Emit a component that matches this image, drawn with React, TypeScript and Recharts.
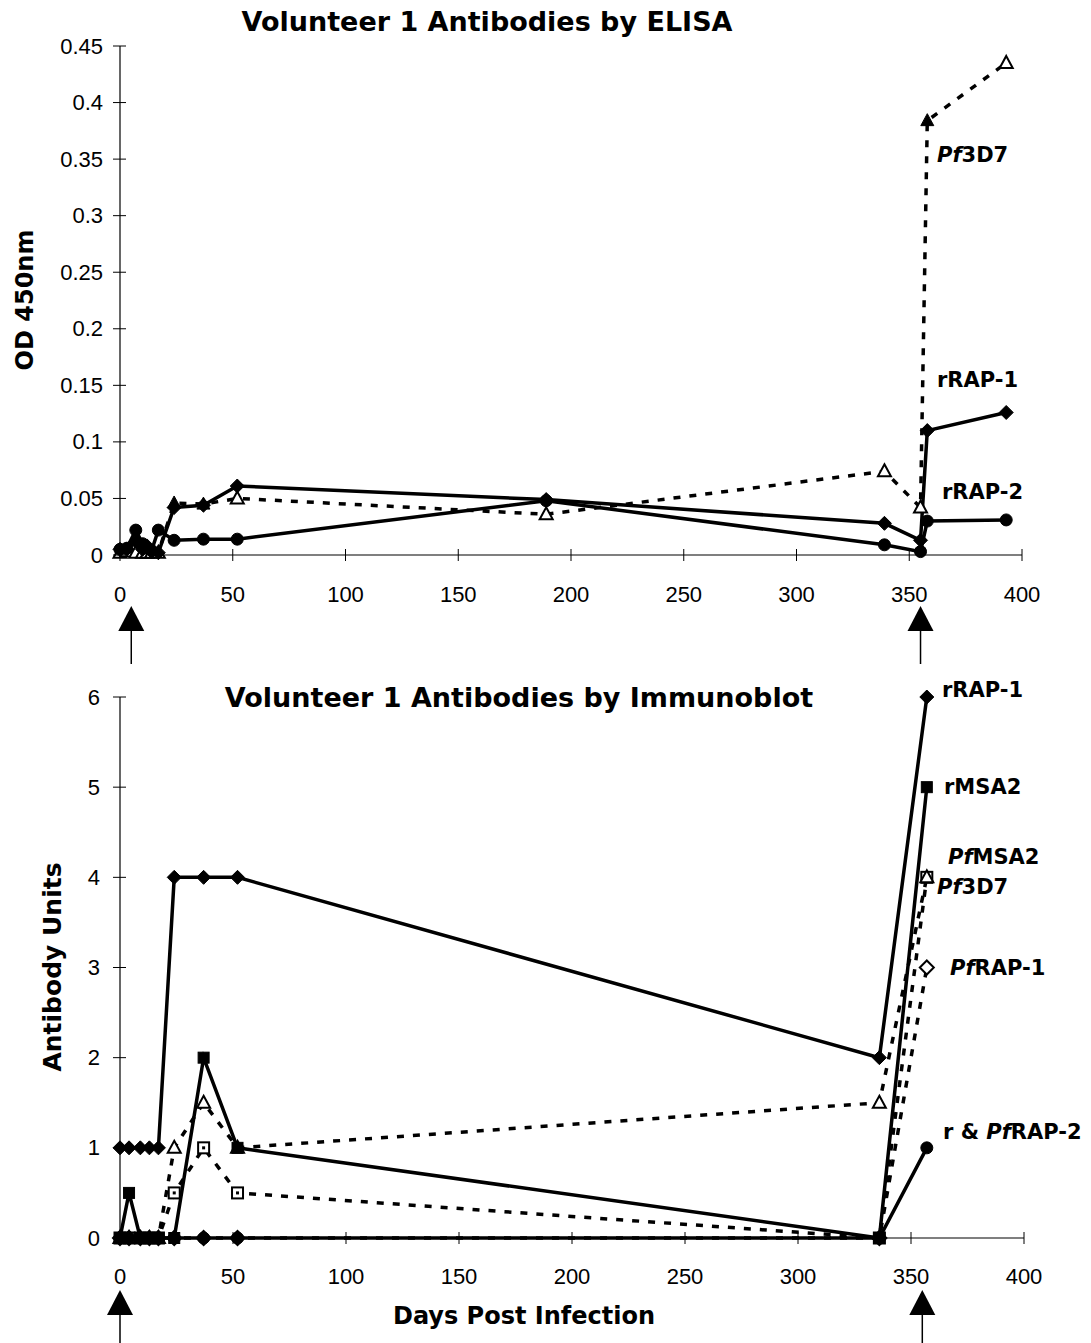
import React from 'react';
import { LineChart, Line, XAxis, YAxis } from 'recharts';

// ELISA panel (days post infection, OD 450nm)
const elisaDays = [0, 3, 7, 10, 12, 14, 17, 24, 37, 52, 189, 339, 355, 358, 393];
const elisaRAP1 = [0.005, 0.005, 0.012, 0.005, 0.008, 0.003, 0.002, 0.042, 0.044, 0.061, 0.049, 0.028, 0.013, 0.110, 0.126];
const elisaPf3D7 = [0.002, 0.003, 0.002, 0.002, 0.002, 0.002, 0.002, 0.046, 0.045, 0.050, 0.036, 0.074, 0.042, 0.384, 0.435];
const elisaRAP2 = [0.005, 0.006, 0.022, 0.010, 0.006, 0.004, 0.022, 0.013, 0.014, 0.014, 0.048, 0.009, 0.003, 0.030, 0.031];
const elisaFilledTriangleDays = [24, 37, 358];

// Immunoblot panel (antibody units)
const blotDays = [0, 4, 9, 13, 17, 24, 37, 52, 336, 357];
const blotRAP1 = [1, 1, 1, 1, 1, 4, 4, 4, 2, 6];
const blotMSA2 = [0, 0.5, 0, 0, 0, 0, 2, 1, 0, 5];
const blotPfMSA2 = [0, 0, 0, 0, 0, 0.5, 1, 0.5, 0, 4];
const blotPf3D7 = [0, 0, 0, 0, 0, 1, 1.5, 1, 1.5, 4];
const blotPfRAP1 = [0, 0, 0, 0, 0, 0, 0, 0, 0, 3];
const blotRAP2 = [0, 0, 0, 0, 0, 0, 0, 0, 0, 1];

const dayTicks = [0, 50, 100, 150, 200, 250, 300, 350, 400];
const odTicks = [0, 0.05, 0.1, 0.15, 0.2, 0.25, 0.3, 0.35, 0.4, 0.45];
const unitTicks = [0, 1, 2, 3, 4, 5, 6];

// infection / challenge arrows (days)
const topArrowDays = [5, 355];
const bottomArrowDays = [0, 355];

const elisaData = elisaDays.map((d, i) => ({
  day: d,
  rap1: elisaRAP1[i],
  pf3d7: elisaPf3D7[i],
  rap2: elisaRAP2[i],
}));

const blotData = blotDays.map((d, i) => ({
  day: d,
  rap1: blotRAP1[i],
  msa2: blotMSA2[i],
  pfmsa2: blotPfMSA2[i],
  pf3d7: blotPf3D7[i],
  pfrap1: blotPfRAP1[i],
  rap2: blotRAP2[i],
}));

const TICK_FONT = '"Liberation Sans", Arial, sans-serif';
const BOLD_FONT = '"DejaVu Sans", sans-serif';
const DASH = '7 9';

// layout of both panels
const W = 1091;
const TOP = { y: 0, h: 640, plotTop: 46, plotBottom: 555, left: 120, right: 1022 };
const BOT = { y: 640, h: 703, plotTop: 697, plotBottom: 1238, left: 120, right: 1024 };

const XTick = ({ x, y, payload, off }: any) => (
  <g>
    <line x1={x} x2={x} y1={y - 6} y2={y + 6} stroke="#000" strokeWidth={1} />
    <text x={x} y={y + off} textAnchor="middle" dominantBaseline="central" fontSize={22} fontFamily={TICK_FONT} fill="#000">
      {payload.value}
    </text>
  </g>
);

const YTick = ({ x, y, payload, off }: any) => (
  <g>
    <line x1={x - 7} x2={x + 6} y1={y} y2={y} stroke="#000" strokeWidth={1} />
    <text x={x - off} y={y} textAnchor="end" dominantBaseline="central" fontSize={22} fontFamily={TICK_FONT} fill="#000">
      {payload.value}
    </text>
  </g>
);

const marker = (shape: string, filled: boolean) => (p: any) => {
  const { cx, cy, index } = p;
  const key = `${shape}-${index}`;
  if (cx == null || cy == null) return <g key={key} />;
  const fill = filled ? '#000' : '#fff';
  const sw = filled ? 1 : 2;
  if (shape === 'diamond') {
    const s = 7;
    return <path key={key} d={`M${cx},${cy - s}L${cx + s},${cy}L${cx},${cy + s}L${cx - s},${cy}Z`} fill={fill} stroke="#000" strokeWidth={sw} />;
  }
  if (shape === 'circle') {
    return <circle key={key} cx={cx} cy={cy} r={6} fill={fill} stroke="#000" strokeWidth={1} />;
  }
  if (shape === 'square') {
    const s = 5.5;
    return (
      <g key={key}>
        <rect x={cx - s} y={cy - s} width={2 * s} height={2 * s} fill={fill} stroke="#000" strokeWidth={sw} />
        {!filled && <rect x={cx - 1.5} y={cy - 1.5} width={3} height={3} fill="#000" />}
      </g>
    );
  }
  // triangle
  return <path key={key} d={`M${cx},${cy - 7}L${cx + 6.5},${cy + 5}L${cx - 6.5},${cy + 5}Z`} fill={fill} stroke="#000" strokeWidth={sw} />;
};

const triangle3D7 = (p: any) => {
  const filled = elisaFilledTriangleDays.includes(p.payload?.day);
  return marker('triangle', filled)(p);
};

const Arrow = ({ x, top, bottom }: { x: number; top: number; bottom: number }) => (
  <g>
    <path d={`M${x},${top}L${x + 13},${top + 25}L${x - 13},${top + 25}Z`} fill="#000" />
    <line x1={x} x2={x} y1={top + 24} y2={bottom} stroke="#000" strokeWidth={1.5} />
  </g>
);

const Label = ({ x, y, pf, rest, prefix }: { x: number; y: number; pf?: boolean; rest: string; prefix?: string }) => (
  <text x={x} y={y} dominantBaseline="central" fontSize={21} fontWeight="bold" fontFamily={BOLD_FONT} fill="#000">
    {prefix && <tspan>{prefix}</tspan>}
    {pf && <tspan fontStyle="italic">Pf</tspan>}
    <tspan>{rest}</tspan>
  </text>
);

const dayX = (panel: typeof TOP, d: number) => panel.left + (d / 400) * (panel.right - panel.left);

export default function App() {
  return (
    <div style={{ position: 'absolute', left: 0, top: 0, width: W, height: 1343, background: '#fff' }}>
      <div style={{ position: 'absolute', left: 0, top: TOP.y }}>
        <LineChart
          width={W}
          height={TOP.h}
          data={elisaData}
          margin={{ top: TOP.plotTop - TOP.y, right: W - TOP.right, left: 0, bottom: 0 }}
        >
          <XAxis
            dataKey="day"
            type="number"
            domain={[0, 400]}
            ticks={dayTicks}
            height={TOP.y + TOP.h - TOP.plotBottom}
            axisLine={{ stroke: '#000', strokeWidth: 1.2 }}
            tickLine={false}
            tickSize={0}
            tickMargin={0}
            tick={(p: any) => <XTick {...p} off={39} />}
            interval={0}
          />
          <YAxis
            type="number"
            domain={[0, 0.45]}
            ticks={odTicks}
            width={TOP.left}
            axisLine={{ stroke: '#000', strokeWidth: 1.2 }}
            tickLine={false}
            tickSize={0}
            tickMargin={0}
            tick={(p: any) => <YTick {...p} off={17} />}
            interval={0}
          />
          <Line dataKey="pf3d7" type="linear" stroke="#000" strokeWidth={3.5} strokeDasharray={DASH} dot={triangle3D7} isAnimationActive={false} />
          <Line dataKey="rap2" type="linear" stroke="#000" strokeWidth={3.5} dot={marker('circle', true)} isAnimationActive={false} />
          <Line dataKey="rap1" type="linear" stroke="#000" strokeWidth={3.5} dot={marker('diamond', true)} isAnimationActive={false} />
        </LineChart>
      </div>

      <div style={{ position: 'absolute', left: 0, top: BOT.y }}>
        <LineChart
          width={W}
          height={BOT.h}
          data={blotData}
          margin={{ top: BOT.plotTop - BOT.y, right: W - BOT.right, left: 0, bottom: 0 }}
        >
          <XAxis
            dataKey="day"
            type="number"
            domain={[0, 400]}
            ticks={dayTicks}
            height={BOT.y + BOT.h - BOT.plotBottom}
            axisLine={{ stroke: '#000', strokeWidth: 1.2 }}
            tickLine={false}
            tickSize={0}
            tickMargin={0}
            tick={(p: any) => <XTick {...p} off={38} />}
            interval={0}
          />
          <YAxis
            type="number"
            domain={[0, 6]}
            ticks={unitTicks}
            width={BOT.left}
            axisLine={{ stroke: '#000', strokeWidth: 1.2 }}
            tickLine={false}
            tickSize={0}
            tickMargin={0}
            tick={(p: any) => <YTick {...p} off={20} />}
            interval={0}
          />
          <Line dataKey="pfrap1" type="linear" stroke="#000" strokeWidth={3.5} strokeDasharray={DASH} dot={marker('diamond', false)} isAnimationActive={false} />
          <Line dataKey="pfmsa2" type="linear" stroke="#000" strokeWidth={3.5} strokeDasharray={DASH} dot={marker('square', false)} isAnimationActive={false} />
          <Line dataKey="pf3d7" type="linear" stroke="#000" strokeWidth={3.5} strokeDasharray={DASH} dot={marker('triangle', false)} isAnimationActive={false} />
          <Line dataKey="rap2" type="linear" stroke="#000" strokeWidth={3.5} dot={marker('circle', true)} isAnimationActive={false} />
          <Line dataKey="msa2" type="linear" stroke="#000" strokeWidth={3.5} dot={marker('square', true)} isAnimationActive={false} />
          <Line dataKey="rap1" type="linear" stroke="#000" strokeWidth={3.5} dot={marker('diamond', true)} isAnimationActive={false} />
        </LineChart>
      </div>

      <svg width={W} height={1343} style={{ position: 'absolute', left: 0, top: 0, pointerEvents: 'none' }}>
        <text x={487} y={21} textAnchor="middle" dominantBaseline="central" fontSize={27} fontWeight="bold" fontFamily={BOLD_FONT}>
          Volunteer 1 Antibodies by ELISA
        </text>
        <text x={519} y={697} textAnchor="middle" dominantBaseline="central" fontSize={27} fontWeight="bold" fontFamily={BOLD_FONT}>
          Volunteer 1 Antibodies by Immunoblot
        </text>
        <text x={25} y={300} transform="rotate(-90 25 300)" textAnchor="middle" dominantBaseline="central" fontSize={24} fontWeight="bold" fontFamily={BOLD_FONT}>
          OD 450nm
        </text>
        <text x={52} y={967} transform="rotate(-90 52 967)" textAnchor="middle" dominantBaseline="central" fontSize={25} fontWeight="bold" fontFamily={BOLD_FONT}>
          Antibody Units
        </text>
        <text x={524} y={1316} textAnchor="middle" dominantBaseline="central" fontSize={24} fontWeight="bold" fontFamily={BOLD_FONT}>
          Days Post Infection
        </text>

        <Label x={937} y={155} pf rest="3D7" />
        <Label x={937} y={380} rest="rRAP-1" />
        <Label x={942} y={492} rest="rRAP-2" />

        <Label x={942} y={690} rest="rRAP-1" />
        <Label x={944} y={787} rest="rMSA2" />
        <Label x={948} y={857} pf rest="MSA2" />
        <Label x={937} y={887} pf rest="3D7" />
        <Label x={950} y={968} pf rest="RAP-1" />
        <Label x={943} y={1132} prefix="r & " pf rest="RAP-2" />

        {topArrowDays.map((d) => (
          <Arrow key={`ta${d}`} x={dayX(TOP, d)} top={606} bottom={664} />
        ))}
        {bottomArrowDays.map((d) => (
          <Arrow key={`ba${d}`} x={dayX(BOT, d)} top={1290} bottom={1343} />
        ))}
      </svg>
    </div>
  );
}
